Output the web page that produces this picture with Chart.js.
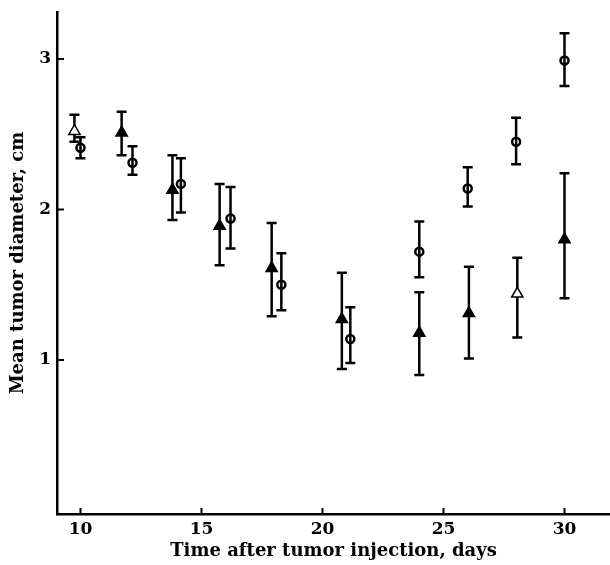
<!DOCTYPE html>
<html>
<head>
<meta charset="utf-8">
<script src="https://cdn.jsdelivr.net/npm/chart.js@4"></script>
<style>
html,body{margin:0;padding:0;background:#fff;overflow:hidden;}
#wrap{width:610px;height:565px;}
canvas{display:block;}
</style>
</head>
<body>
<div id="wrap"><canvas id="c" width="610" height="565"></canvas></div>
<script>
// Triangles (filled markers)
const triDays = [9.75, 11.7, 13.8, 15.75, 17.9, 20.8, 24.0, 26.05, 28.05, 30.0];
const triMean = [2.52, 2.51, 2.13, 1.89, 1.61, 1.27, 1.18, 1.31, 1.44, 1.80];
const triHi   = [2.63, 2.65, 2.36, 2.17, 1.91, 1.58, 1.45, 1.62, 1.68, 2.24];
const triLo   = [2.45, 2.36, 1.93, 1.63, 1.29, 0.94, 0.90, 1.01, 1.15, 1.41];
const triOpen = [true, false, false, false, false, false, false, false, true, false];
// Circles (open markers)
const cirDays = [10.0, 12.15, 14.15, 16.2, 18.3, 21.15, 24.0, 26.0, 28.0, 30.0];
const cirMean = [2.41, 2.31, 2.17, 1.94, 1.50, 1.14, 1.72, 2.14, 2.45, 2.99];
const cirHi   = [2.48, 2.42, 2.34, 2.15, 1.71, 1.35, 1.92, 2.28, 2.61, 3.17];
const cirLo   = [2.34, 2.23, 1.98, 1.74, 1.33, 0.98, 1.55, 2.02, 2.30, 2.82];
// Tick labels
const xTicks = [10, 15, 20, 25, 30];
const yTicks = [1, 2, 3];

const FONT = "'DejaVu Serif', 'Liberation Serif', serif";

const triData = triDays.map((d, i) => ({x: d, y: triMean[i], hi: triHi[i], lo: triLo[i]}));
const cirData = cirDays.map((d, i) => ({x: d, y: cirMean[i], hi: cirHi[i], lo: cirLo[i]}));

const errorBars = {
  id: 'errorBars',
  beforeDatasetsDraw(chart) {
    const ctx = chart.ctx;
    const xs = chart.scales.x, ys = chart.scales.y;
    ctx.save();
    ctx.strokeStyle = '#000';
    ctx.lineWidth = 2.5;
    chart.data.datasets.forEach(ds => {
      ds.data.forEach(p => {
        const px = xs.getPixelForValue(p.x);
        const top = ys.getPixelForValue(p.hi);
        const bot = ys.getPixelForValue(p.lo);
        ctx.beginPath();
        ctx.moveTo(px, top); ctx.lineTo(px, bot);
        ctx.moveTo(px - 5, top); ctx.lineTo(px + 5, top);
        ctx.moveTo(px - 5, bot); ctx.lineTo(px + 5, bot);
        ctx.stroke();
      });
    });
    ctx.restore();
  }
};

const innerTicks = {
  id: 'innerTicks',
  afterDraw(chart) {
    const ctx = chart.ctx;
    const xs = chart.scales.x, ys = chart.scales.y;
    const a = chart.chartArea;
    ctx.save();
    ctx.strokeStyle = '#000';
    ctx.lineWidth = 2;
    xTicks.forEach(v => {
      const px = xs.getPixelForValue(v);
      ctx.beginPath(); ctx.moveTo(px, a.bottom); ctx.lineTo(px, a.bottom - 6); ctx.stroke();
    });
    yTicks.forEach(v => {
      const py = ys.getPixelForValue(v);
      ctx.beginPath(); ctx.moveTo(a.left, py); ctx.lineTo(a.left + 7, py); ctx.stroke();
    });
    ctx.restore();
  }
};

new Chart(document.getElementById('c'), {
  type: 'scatter',
  data: {
    datasets: [
      {
        label: 'triangles',
        data: triData,
        pointStyle: 'triangle',
        pointRadius: 6.5,
        pointBorderWidth: 1.5,
        pointBorderColor: '#000',
        pointBackgroundColor: triOpen.map(o => o ? '#fff' : '#000')
      },
      {
        label: 'circles',
        data: cirData,
        pointStyle: 'circle',
        pointRadius: 4,
        pointBorderWidth: 2.5,
        pointBorderColor: '#000',
        pointBackgroundColor: 'rgba(0,0,0,0)'
      }
    ]
  },
  plugins: [errorBars, innerTicks],
  options: {
    responsive: false,
    animation: false,
    events: [],
    layout: {autoPadding: false, padding: {top: 12, right: 0, left: 0, bottom: 0}},
    plugins: {legend: {display: false}, tooltip: {enabled: false}},
    scales: {
      x: {
        type: 'linear',
        min: 9.03,
        max: 31.88,
        afterBuildTicks(s) { s.ticks = xTicks.map(v => ({value: v})); },
        afterFit(s) { s.height = 51; s.paddingLeft = 0; s.paddingRight = 0; },
        grid: {display: false, drawTicks: false},
        border: {display: true, color: '#000', width: 2.5},
        ticks: {color: '#000', padding: 5, font: {family: FONT, size: 17, weight: 'bold'}},
        title: {
          display: true,
          text: 'Time after tumor injection, days',
          color: '#000',
          padding: {top: 0, bottom: 3},
          font: {family: FONT, size: 18, weight: 'bold'}
        }
      },
      y: {
        type: 'linear',
        min: -0.023,
        max: 3.312,
        afterBuildTicks(s) { s.ticks = yTicks.map(v => ({value: v})); },
        afterFit(s) { s.width = 57; s.paddingTop = 0; s.paddingBottom = 0; },
        grid: {display: false, drawTicks: false},
        border: {display: true, color: '#000', width: 2.5},
        ticks: {color: '#000', padding: 6, font: {family: FONT, size: 17, weight: 'bold'}},
        title: {
          display: true,
          text: 'Mean tumor diameter, cm',
          color: '#000',
          padding: {top: 8, bottom: 0},
          font: {family: FONT, size: 18, weight: 'bold'}
        }
      }
    }
  }
});
</script>
</body>
</html>
